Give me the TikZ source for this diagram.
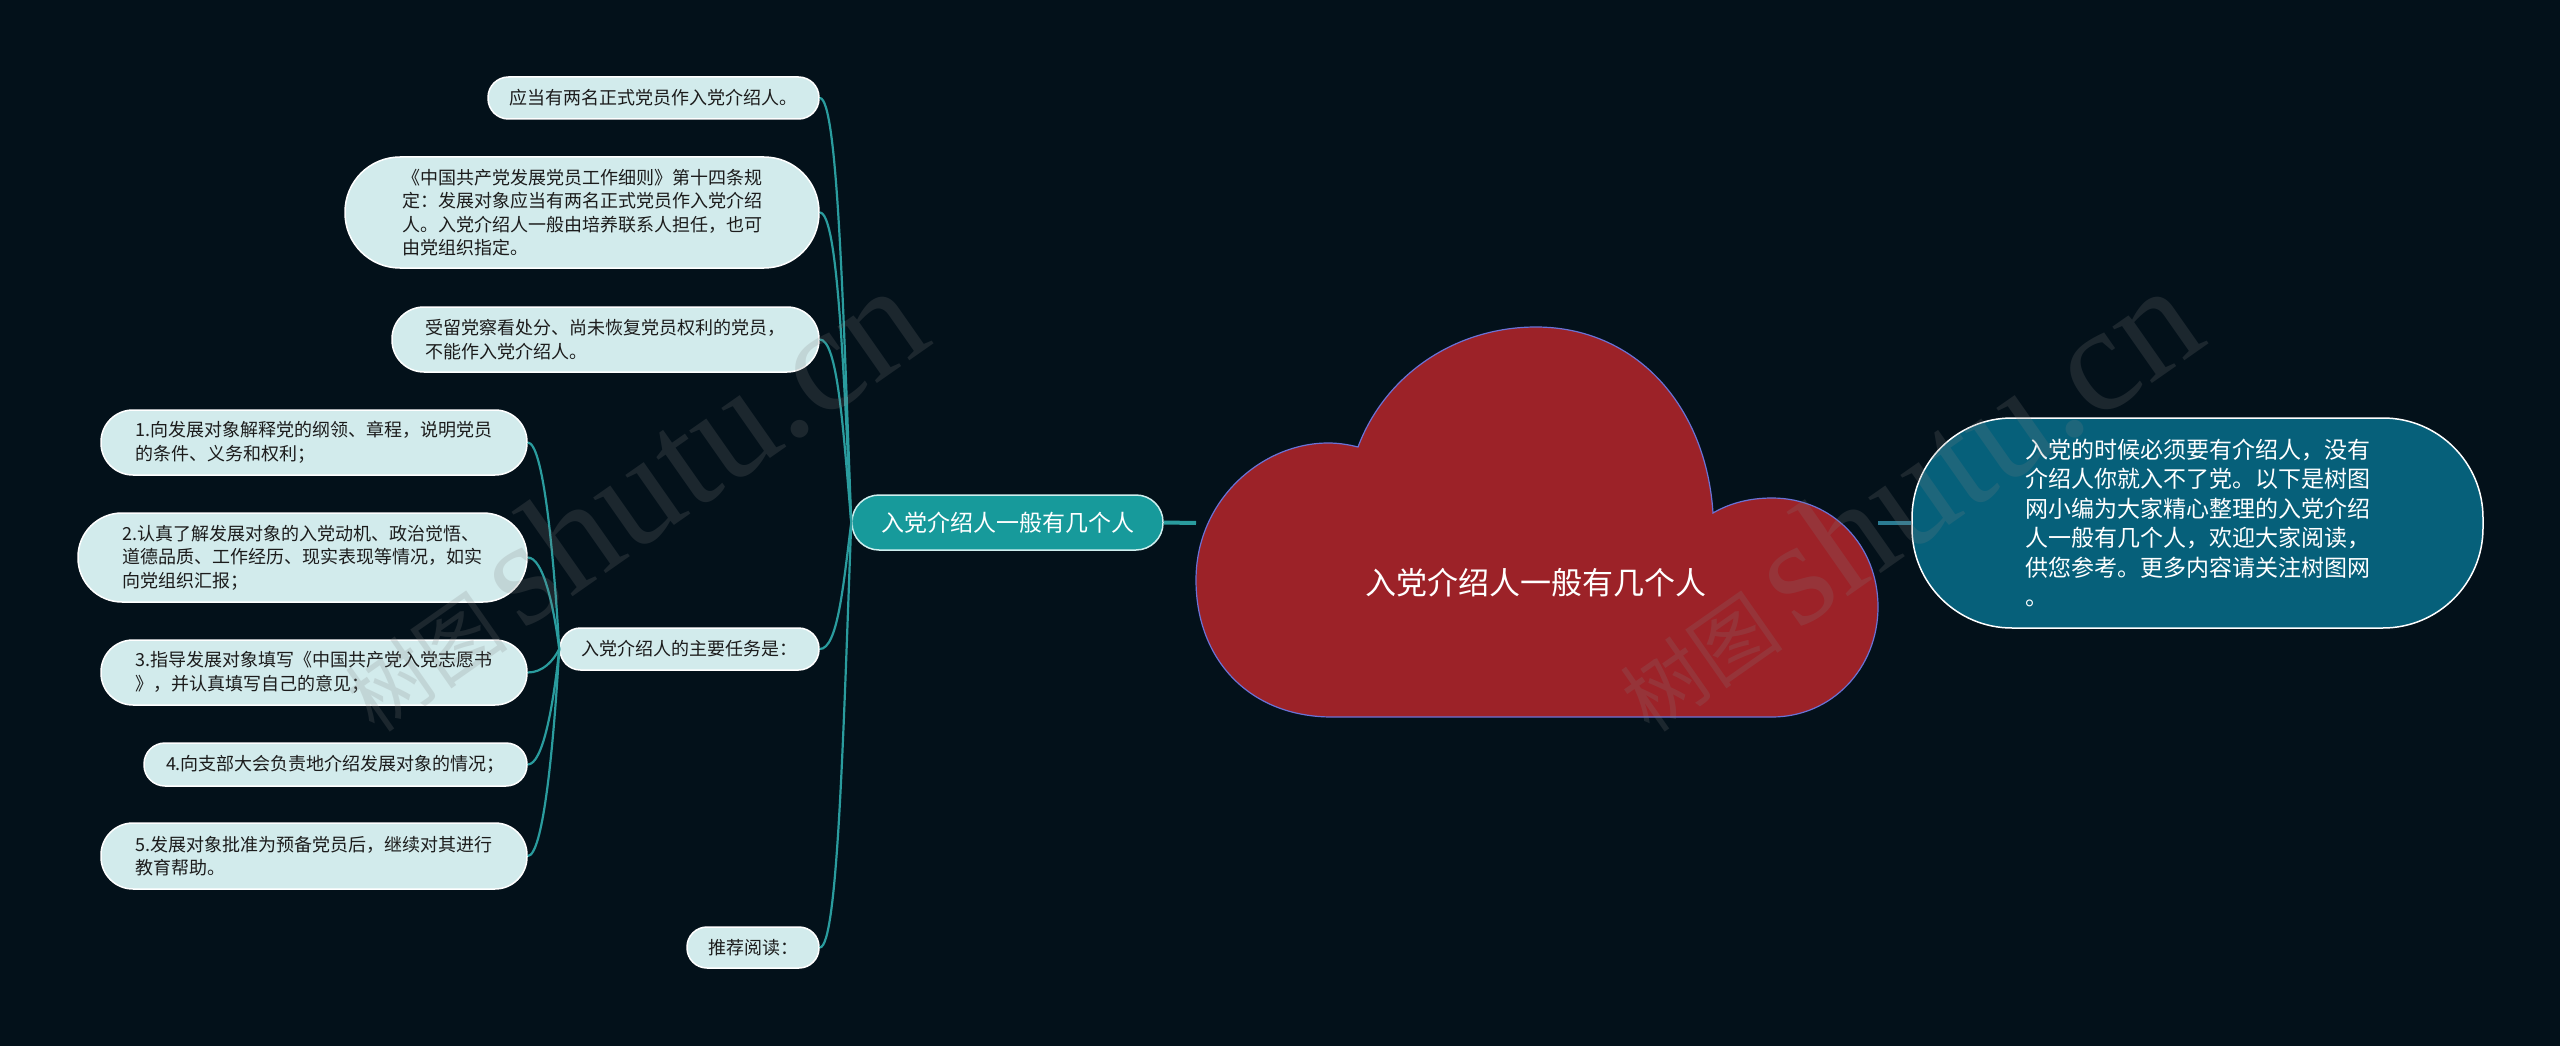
\documentclass[tikz,border=0pt]{standalone}
\usepackage{fontspec}
\setmainfont{Noto Sans CJK SC}
\newfontfamily\wmserif{Liberation Serif}
\definecolor{bg}{HTML}{03111A}
\definecolor{leaf}{HTML}{D2EBEC}
\definecolor{branch}{HTML}{179A9B}
\definecolor{branchedge}{HTML}{CFEFEF}
\definecolor{cloudred}{HTML}{9C2228}
\definecolor{cloudedge}{HTML}{6A72D6}
\definecolor{rbox}{HTML}{06607A}
\definecolor{conn}{HTML}{2A9C9E}
\definecolor{conntwo}{HTML}{2B7C93}
\definecolor{leaftext}{HTML}{1C1C1C}
\begin{document}
\begin{tikzpicture}[x=1pt,y=-1pt,
  leafbox/.style={draw=white, line width=1.5pt, fill=leaf, text=leaftext,
    font=\fontsize{18}{23.5}\selectfont, align=left, inner sep=0pt},
  branchbox/.style={draw=branchedge, line width=1.5pt, fill=branch, text=white,
    font=\fontsize{23}{28}\selectfont, align=center, inner sep=0pt},
  infobox/.style={draw=white, line width=1.5pt, fill=rbox, text=white,
    font=\fontsize{23}{29.5}\selectfont, align=left, inner sep=0pt},
  link/.style={draw=conn, line width=2.2pt},
  biglink/.style={line width=4pt},
  wm/.style={text=gray, opacity=0.2, inner sep=0pt}
]
\fill[bg] (0,0) rectangle (2560,1046);
\useasboundingbox (0,0) rectangle (2560,1046);

% cloud
\filldraw[fill=cloudred, draw=cloudedge, line width=1.2pt]
 (1332,717) .. controls (1250,717) and (1196,660) .. (1196,580)
 .. controls (1196,500) and (1262,443) .. (1328,443)
 .. controls (1340,443) and (1350,445) .. (1358,447)
 .. controls (1385,375) and (1455,327) .. (1536,327)
 .. controls (1635,327) and (1706,405) .. (1713,513)
 .. controls (1730,503) and (1750,498) .. (1772,498)
 .. controls (1832,498) and (1878,545) .. (1878,607)
 .. controls (1878,668) and (1832,717) .. (1772,717)
 -- cycle;
\node[text=white, font=\fontsize{31}{36}\selectfont] (root) at (1536,583) {入党介绍人一般有几个人};
\coordinate (cl) at (1196,523);
\coordinate (cr) at (1878,523);

% main branch and info
\node[branchbox, minimum width=311pt, minimum height=55pt, rounded corners=27pt] (M) at (1007.5,522.5) {入党介绍人一般有几个人};
\node[infobox, minimum width=571pt, minimum height=210pt, rounded corners=100pt] (R) at (2197.5,523)
 {入党的时候必须要有介绍人，没有\\介绍人你就入不了党。以下是树图\\网小编为大家精心整理的入党介绍\\人一般有几个人，欢迎大家阅读，\\供您参考。更多内容请关注树图网\\。};

\draw[biglink, draw=conn] (M.east) -- (cl);
\draw[biglink, draw=conntwo] (cr) -- (R.west);

% left leaves
\node[leafbox, minimum width=331pt, minimum height=42pt, rounded corners=20.5pt] (A) at (653.5,98) {应当有两名正式党员作入党介绍人。};
\node[leafbox, minimum width=474pt, minimum height=111pt, rounded corners=55pt] (B) at (582,212.5)
 {《中国共产党发展党员工作细则》第十四条规\\定：发展对象应当有两名正式党员作入党介绍\\人。入党介绍人一般由培养联系人担任，也可\\由党组织指定。};
\node[leafbox, minimum width=427pt, minimum height=65pt, rounded corners=32pt] (C) at (605.5,339.5)
 {受留党察看处分、尚未恢复党员权利的党员，\\不能作入党介绍人。};
\node[leafbox, minimum width=259pt, minimum height=42pt, rounded corners=20.5pt] (T) at (689.5,649) {入党介绍人的主要任务是：};
\node[leafbox, minimum width=132pt, minimum height=41pt, rounded corners=20pt] (Rec) at (753,947.5) {推荐阅读：};

\node[leafbox, minimum width=426pt, minimum height=65pt, rounded corners=32pt] (T1) at (314,442.5)
 {1.向发展对象解释党的纲领、章程，说明党员\\的条件、义务和权利；};
\node[leafbox, minimum width=449pt, minimum height=89pt, rounded corners=44pt] (T2) at (302.5,557.5)
 {2.认真了解发展对象的入党动机、政治觉悟、\\道德品质、工作经历、现实表现等情况，如实\\向党组织汇报；};
\node[leafbox, minimum width=426pt, minimum height=65pt, rounded corners=32pt] (T3) at (314,672.5)
 {3.指导发展对象填写《中国共产党入党志愿书\\》，并认真填写自己的意见；};
\node[leafbox, minimum width=383pt, minimum height=43pt, rounded corners=21pt] (T4) at (335.5,764.5)
 {4.向支部大会负责地介绍发展对象的情况；};
\node[leafbox, minimum width=426pt, minimum height=66pt, rounded corners=32pt] (T5) at (314,856)
 {5.发展对象批准为预备党员后，继续对其进行\\教育帮助。};

% connectors
\draw[link] (A.east) .. controls +(18,0) and +(-8,-212) .. (M.west);
\draw[link] (B.east) .. controls +(18,0) and +(-8,-155) .. (M.west);
\draw[link] (C.east) .. controls +(18,0) and +(-8,-92) .. (M.west);
\draw[link] (T.east) .. controls +(18,0) and +(-8,63) .. (M.west);
\draw[link] (Rec.east) .. controls +(18,0) and +(-8,212) .. (M.west);

\draw[link] (T1.east) .. controls +(15,0) and +(-6,-103) .. (T.west);
\draw[link] (T2.east) .. controls +(15,0) and +(-6,-46) .. (T.west);
\draw[link] (T3.east) .. controls +(15,0) and +(-6,12) .. (T.west);
\draw[link] (T4.east) .. controls +(15,0) and +(-6,58) .. (T.west);
\draw[link] (T5.east) .. controls +(15,0) and +(-6,103) .. (T.west);

% watermarks
\node[wm, rotate=35, anchor=base west] (wma) at (375,735)
 {\fontsize{82}{82}\selectfont 树图\hspace{16pt}{\wmserif\fontsize{150}{150}\selectfont shutu.cn}};
\node[wm, rotate=35, anchor=base west] (wmb) at (1650,735)
 {\fontsize{82}{82}\selectfont 树图\hspace{16pt}{\wmserif\fontsize{150}{150}\selectfont shutu.cn}};
\end{tikzpicture}
\end{document}
